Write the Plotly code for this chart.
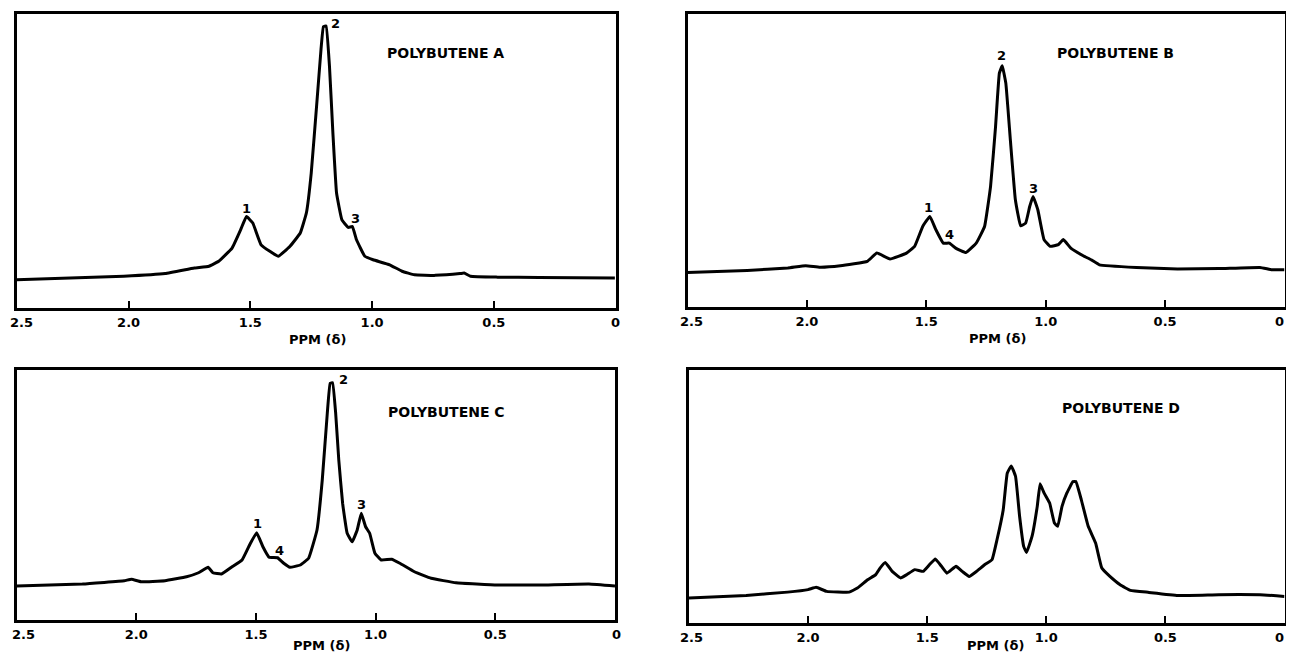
import plotly.graph_objects as go

# ---------------- data (ppm, relative intensity 0-100 of panel height) ----------------
tick_vals = [2.0, 1.5, 1.0, 0.5]
tick_text = ["2.0", "1.5", "1.0", "0.5"]
end_labels = ["2.5", "0"]
x_title = "PPM (δ)"

a_ppm = [2.46, 2.02, 1.85, 1.73, 1.67, 1.63, 1.575, 1.54, 1.516, 1.49, 1.456, 1.42, 1.385,
         1.337, 1.295, 1.27, 1.25, 1.226, 1.21, 1.20, 1.189, 1.175, 1.161, 1.146, 1.124,
         1.098, 1.081, 1.064, 1.03, 0.996, 0.928, 0.877, 0.826, 0.741, 0.639, 0.622, 0.596,
         0.485, 0.315, 0.003]
a_int = [9.6, 10.8, 11.7, 13.6, 14.2, 15.9, 20.4, 26.6, 31.1, 28.9, 21.5, 19.3, 17.6,
         21.0, 25.5, 32.3, 45.9, 70.8, 87.8, 95.7, 95.9, 82.1, 59.5, 39.1, 30.0,
         27.4, 27.7, 23.2, 17.6, 16.4, 14.7, 12.5, 11.3, 11.1, 11.7, 11.9, 10.8,
         10.5, 10.4, 10.2]

b_ppm = [2.50, 2.25, 2.08, 2.005, 1.945, 1.86, 1.747, 1.707, 1.652, 1.583, 1.549, 1.515,
         1.485, 1.46, 1.429, 1.403, 1.377, 1.334, 1.291, 1.256, 1.231, 1.21, 1.194, 1.182,
         1.167, 1.148, 1.127, 1.105, 1.084, 1.067, 1.053, 1.033, 1.007, 0.981, 0.947,
         0.926, 0.895, 0.843, 0.809, 0.775, 0.62, 0.448, 0.275, 0.103, 0.052, 0.0]
b_int = [11.8, 12.5, 13.3, 14.1, 13.6, 14.1, 15.6, 18.4, 16.4, 18.4, 20.7, 27.5,
         30.9, 26.4, 21.8, 21.8, 20.1, 18.6, 21.8, 27.5, 41.1, 61.6, 79.8, 82.3,
         76.4, 57.0, 36.6, 27.7, 28.6, 34.3, 37.7, 33.2, 23.0, 20.7, 21.3,
         23.0, 20.1, 17.5, 16.1, 14.4, 13.5, 13.0, 13.1, 13.5, 12.7, 12.7]

c_ppm = [2.50, 2.225, 2.05, 2.02, 1.98, 1.88, 1.79, 1.74, 1.70, 1.68, 1.644, 1.60, 1.558,
         1.523, 1.497, 1.471, 1.445, 1.41, 1.384, 1.358, 1.315, 1.28, 1.245, 1.223, 1.202,
         1.19, 1.18, 1.167, 1.154, 1.138, 1.119, 1.098, 1.077, 1.06, 1.042, 1.025, 1.003,
         0.977, 0.933, 0.899, 0.838, 0.768, 0.664, 0.491, 0.317, 0.109, 0.0]
c_int = [13.6, 14.4, 15.7, 16.3, 15.3, 15.7, 17.3, 18.9, 21.1, 18.9, 18.4, 21.3, 24.0,
         30.7, 34.9, 29.3, 25.1, 24.9, 22.7, 21.1, 22.0, 24.7, 36.0, 56.0, 82.7,
         94.7, 94.9, 82.7, 64.0, 46.7, 34.7, 31.3, 36.0, 42.7, 37.3, 34.7, 26.7,
         24.0, 24.3, 22.7, 19.3, 16.7, 14.9, 14.0, 14.0, 14.4, 13.6]

d_ppm = [2.50, 2.26, 2.086, 2.0, 1.966, 1.922, 1.828, 1.793, 1.75, 1.716, 1.698, 1.676,
         1.647, 1.612, 1.586, 1.552, 1.517, 1.491, 1.466, 1.44, 1.417, 1.379, 1.353, 1.324,
         1.293, 1.259, 1.228, 1.207, 1.181, 1.164, 1.147, 1.129, 1.112, 1.095, 1.083, 1.06,
         1.038, 1.026, 1.009, 0.986, 0.966, 0.952, 0.934, 0.914, 0.888, 0.876, 0.853, 0.824,
         0.793, 0.767, 0.733, 0.69, 0.647, 0.569, 0.448, 0.276, 0.103, 0.0]
d_int = [9.9, 10.9, 12.2, 13.2, 14.1, 12.5, 12.2, 13.8, 17.1, 19.1, 21.7, 23.9,
         20.4, 17.8, 19.1, 21.1, 20.4, 23.0, 25.3, 22.4, 19.7, 22.4, 20.4, 18.4,
         20.4, 23.0, 25.0, 32.9, 44.7, 59.2, 62.1, 57.9, 42.1, 30.3, 27.9, 34.2,
         46.1, 55.0, 51.3, 47.4, 39.5, 38.2, 46.1, 51.3, 55.9, 55.9, 48.7, 38.2,
         31.6, 21.7, 18.4, 15.1, 12.9, 12.1, 10.9, 11.2, 11.2, 10.5]

panel_names = ["POLYBUTENE A", "POLYBUTENE B", "POLYBUTENE C", "POLYBUTENE D"]
# peak labels: (panel index, label, ppm, intensity)
peak_labels = [
    (0, "2", 1.15, 96.6), (0, "1", 1.514, 34.0), (0, "3", 1.067, 30.6),
    (1, "2", 1.184, 86.0), (1, "1", 1.492, 33.8), (1, "4", 1.403, 24.7), (1, "3", 1.053, 40.6),
    (2, "2", 1.136, 96.3), (2, "1", 1.494, 38.7), (2, "4", 1.40, 28.0), (2, "3", 1.058, 46.4),
]
name_pos = [(0.697, 86.7), (0.706, 86.6), (0.703, 83.3), (0.686, 84.9)]

# ---------------- figure ----------------
# The page body has an 8px margin, so the figure is sized to fit the 1294x660 window
# and all placements below are given in window pixels, then shifted by that margin.
VW, VH, M = 1294, 660, 8
W, H = VW - 2 * M, VH - 2 * M
boxes = [  # left, right, top, bottom in window pixels
    (16.6, 615.6, 14, 308),
    (687.5, 1284.5, 14, 307),
    (16.6, 615.0, 370, 620),
    (689.0, 1284.5, 370, 623),
]
title_pos = [(317, 339), (997, 338), (321, 645), (996, 645)]  # window-pixel centres
# end tick labels: (x of "2.5" centre, x of "0" anchor, anchor for "0")
end_pos = [(21, 615.6, "center"), (691, 1286, "right"), (23, 616, "center"), (692, 1286, "right")]
x_ranges = [[2.46, 0], [2.5, 0], [2.5, 0], [2.5, 0]]


def px(sx):
    return (sx - M) / W


def py(sy):
    return 1 - (sy - M) / H


series = [(a_ppm, a_int), (b_ppm, b_int), (c_ppm, c_int), (d_ppm, d_int)]
fig = go.Figure()
FONT = "DejaVu Sans"
TICKFONT = dict(family=FONT, size=13, color="black", weight="bold")

layout = dict(
    width=W, height=H, margin=dict(l=0, r=0, t=0, b=0, autoexpand=False),
    paper_bgcolor="white", plot_bgcolor="white", showlegend=False,
    font=dict(family=FONT, color="black"),
)
annotations = []
for i, (xs, ys) in enumerate(series):
    n = "" if i == 0 else str(i + 1)
    fig.add_trace(go.Scatter(x=xs, y=ys, mode="lines", xaxis="x" + n, yaxis="y" + n,
                             line=dict(color="black", width=3, shape="spline", smoothing=0.3),
                             hoverinfo="skip"))
    l, r, t, b = boxes[i]
    layout["xaxis" + n] = dict(
        domain=[px(l), px(r)], anchor="y" + n, range=x_ranges[i], automargin=False,
        tickmode="array", tickvals=tick_vals, ticktext=tick_text, ticks="inside", ticklen=7,
        tickwidth=2, tickcolor="black", showgrid=False, zeroline=False,
        showline=True, linecolor="black", linewidth=3, mirror=True,
        tickfont=TICKFONT,
    )
    layout["yaxis" + n] = dict(
        domain=[py(b), py(t)], anchor="x" + n, range=[0, 100], automargin=False,
        showticklabels=False, ticks="", showgrid=False, zeroline=False,
        showline=True, linecolor="black", linewidth=3, mirror=True,
    )
    annotations.append(dict(x=name_pos[i][0], y=name_pos[i][1], xref="x" + n, yref="y" + n,
                            text=panel_names[i], showarrow=False,
                            font=dict(family=FONT, size=14, color="black", weight="bold")))
    tx, ty = title_pos[i]
    annotations.append(dict(x=px(tx), y=py(ty), xref="paper", yref="paper",
                            text=x_title, showarrow=False, xanchor="center", yanchor="middle",
                            font=dict(family=FONT, size=13, color="black", weight="bold")))
    # end-of-axis labels (2.5 and 0), kept inside the page like the hand-lettered original
    x25, x0, anc0 = end_pos[i]
    for lab, lx, anc in ((end_labels[0], x25, "center"), (end_labels[1], x0, anc0)):
        annotations.append(dict(x=px(lx), y=py(b), xref="paper", yref="paper", yshift=-14,
                                text=lab, showarrow=False, xanchor=anc, yanchor="middle",
                                font=TICKFONT))

for (p, txt, xv, yv) in peak_labels:
    n = "" if p == 0 else str(p + 1)
    annotations.append(dict(x=xv, y=yv, xref="x" + n, yref="y" + n, text=txt, showarrow=False,
                            font=dict(family=FONT, size=13, color="black", weight="bold")))

layout["annotations"] = annotations
fig.update_layout(**layout)
fig.write_html("out.html")
